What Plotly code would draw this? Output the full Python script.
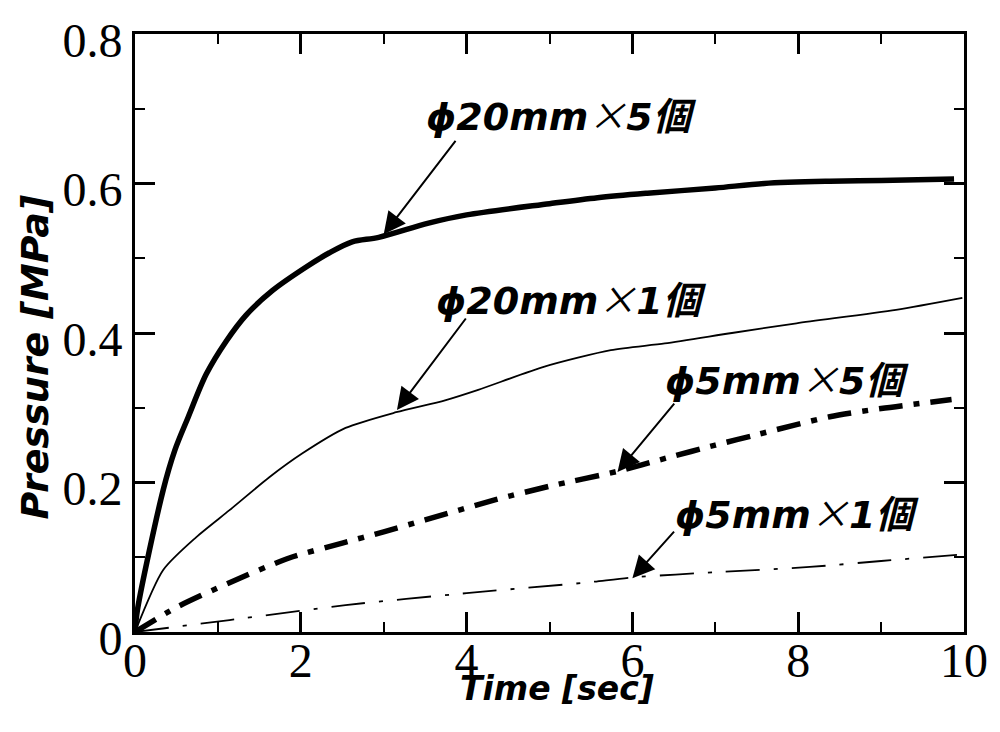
import plotly.graph_objects as go

# Pressure rise curves, Time [sec] vs Pressure [MPa]
t_20x5 = [0, 0.03, 0.34, 0.48, 0.64, 0.86, 1.10, 1.34, 1.66, 2.06, 2.34, 2.62, 2.94,
          3.54, 4.0, 5.0, 5.58, 6.18, 7.0, 7.59, 8.38, 9.0, 9.88]
p_20x5 = [0, 0.03, 0.19, 0.243, 0.287, 0.345, 0.389, 0.424, 0.457, 0.488, 0.507, 0.522, 0.528,
          0.547, 0.558, 0.573, 0.581, 0.587, 0.594, 0.600, 0.603, 0.604, 0.606]

t_20x1 = [0, 0.34, 0.74, 1.14, 1.62, 2.02, 2.54, 3.15, 3.74, 4.14, 4.94, 5.74, 6.39,
          7.2, 7.98, 9.18, 9.98]
p_20x1 = [0, 0.083, 0.127, 0.163, 0.207, 0.239, 0.273, 0.294, 0.310, 0.324, 0.355, 0.377, 0.386,
          0.400, 0.413, 0.431, 0.447]

t_5x5 = [0, 0.5, 1.14, 1.86, 2.5, 3.0, 3.5, 4.35, 5.0, 5.82, 6.42, 7.0, 7.5, 8.38, 9.0, 9.85]
p_5x5 = [0, 0.033, 0.066, 0.099, 0.119, 0.134, 0.150, 0.177, 0.195, 0.215, 0.233, 0.250,
         0.264, 0.288, 0.299, 0.311]

t_5x1 = [0, 1.14, 2.54, 4.0, 5.43, 6.0, 7.0, 8.14, 9.0, 10.0]
p_5x1 = [0, 0.016, 0.036, 0.052, 0.066, 0.073, 0.080, 0.087, 0.095, 0.104]

x_ticks = [0, 2, 4, 6, 8, 10]
y_ticks = [0, 0.2, 0.4, 0.6, 0.8]
y_tick_text = ["0", "0.2", "0.4", "0.6", "0.8"]

# label text, label centre (x, y), arrow tip (x, y), arrow tail offset in px
labels = ["20mm", "20mm", "5mm", "5mm"]
counts = ["5", "1", "5", "1"]
label_x = [5.14, 5.27, 7.86, 7.98]
label_y = [0.694, 0.448, 0.340, 0.161]
tip_x = [3.0, 3.16, 5.82, 6.0]
tip_y = [0.532, 0.297, 0.214, 0.072]
tail_dx = [73, 70, 58, 43]
tail_dy = [-95, -93, -70, -48]

fig = go.Figure()
fig.add_trace(go.Scatter(x=t_20x5, y=p_20x5, mode="lines",
                         line=dict(color="black", width=5.5, shape="spline", smoothing=0.9)))
fig.add_trace(go.Scatter(x=t_20x1, y=p_20x1, mode="lines",
                         line=dict(color="black", width=1.8, shape="spline", smoothing=0.7)))
fig.add_trace(go.Scatter(x=t_5x5, y=p_5x5, mode="lines",
                         line=dict(color="black", width=5.5, dash="24px,11px,6px,11px",
                                   shape="spline", smoothing=0.7)))
fig.add_trace(go.Scatter(x=t_5x1, y=p_5x1, mode="lines",
                         line=dict(color="black", width=1.8, dash="34px,14px,4px,14px",
                                   shape="spline", smoothing=0.7)))

label_font = dict(family="DejaVu Sans, Noto Sans CJK JP", size=38, color="black")
for name, n, lx, ly, tx, ty, dx, dy in zip(labels, counts, label_x, label_y,
                                          tip_x, tip_y, tail_dx, tail_dy):
    text = ("<b><i>ϕ" + name
            + "<span style='font-family:Noto Sans CJK JP;font-weight:normal'>×</span>"
            + n + "個</i></b>")
    fig.add_annotation(x=lx, y=ly, xref="x", yref="y", text=text, showarrow=False,
                       font=label_font, xanchor="center", yanchor="middle")
    fig.add_annotation(x=tx, y=ty, xref="x", yref="y", ax=dx, ay=dy, text="",
                       showarrow=True, arrowhead=2, arrowsize=2.2, arrowwidth=2,
                       arrowcolor="black")

title_font = dict(family="DejaVu Sans", size=33, color="black")
fig.add_annotation(x=0.509, y=-0.095, xref="paper", yref="paper",
                   text="<b><i>Time [sec]</i></b>", showarrow=False, font=title_font,
                   xanchor="center", yanchor="middle")
fig.add_annotation(x=-0.121, y=0.46, xref="paper", yref="paper",
                   text="<b><i>Pressure [MPa]</i></b>", showarrow=False,
                   font=dict(family="DejaVu Sans", size=38, color="black"),
                   textangle=-90, xanchor="center", yanchor="middle")

tick_font = dict(family="Liberation Serif, Times New Roman, serif", size=48, color="black")
fig.update_xaxes(range=[0, 10], tickvals=x_ticks, ticktext=[str(v) for v in x_ticks],
                 ticks="inside", ticklen=20, tickwidth=2.5, tickcolor="black",
                 ticklabelstandoff=-16,
                 minor=dict(dtick=1, ticks="inside", ticklen=10, tickwidth=2, tickcolor="black"),
                 showline=True, linewidth=3, linecolor="black", mirror="allticks",
                 showgrid=False, zeroline=False, tickfont=tick_font)
fig.update_yaxes(range=[0, 0.8], tickvals=y_ticks, ticktext=y_tick_text,
                 ticks="inside", ticklen=20, tickwidth=2.5, tickcolor="black",
                 ticklabelshift=6,
                 minor=dict(dtick=0.1, ticks="inside", ticklen=10, tickwidth=2, tickcolor="black"),
                 showline=True, linewidth=3, linecolor="black", mirror="allticks",
                 showgrid=False, zeroline=False, tickfont=tick_font)

fig.update_layout(width=1000, height=732, showlegend=False,
                  margin=dict(l=135, r=32, t=34, b=100),
                  paper_bgcolor="white", plot_bgcolor="white")

fig.write_html("out.html")
